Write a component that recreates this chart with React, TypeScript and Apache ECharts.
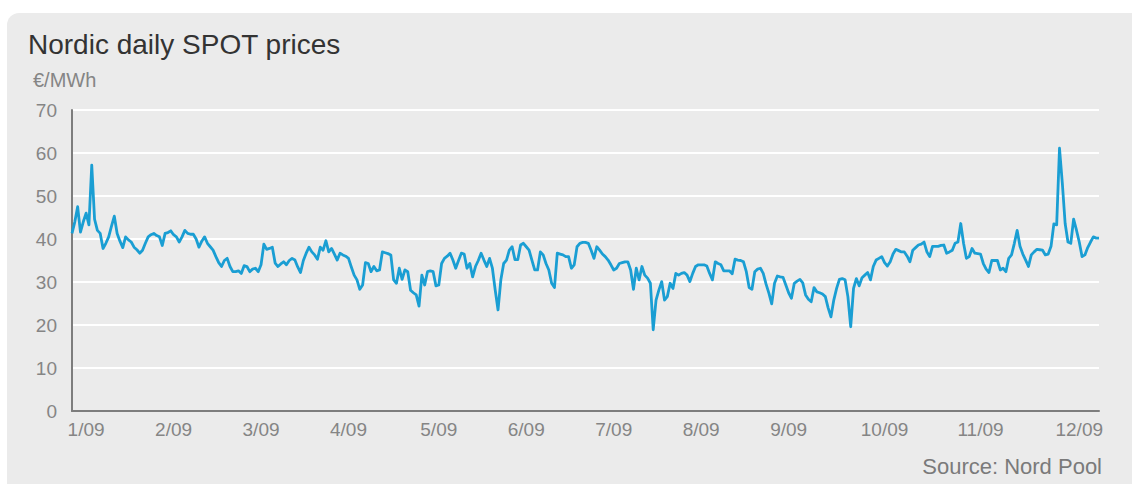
import { useEffect, useRef } from "react";
import * as echarts from "echarts";

// Nordic system price, daily average, 2009 (€/MWh)
const spotPrices: number[] = [
  // Jan
  41.3, 44, 47.5, 41.6, 44, 46, 43.3, 57.2, 44.6, 42, 41.3, 37.8, 39, 40.5, 43, 45.3,
  41.3, 39.5, 38, 40.5, 39.8, 39.3, 38.1, 37.5, 36.7, 37.4, 39, 40.5, 41, 41.3, 40.8,
  // Feb
  40.5, 38.5, 41.3, 41.5, 41.9, 41, 40.5, 39.3, 40.5, 42, 41.3, 41.1, 41.1, 40, 38.1,
  39.5, 40.5, 39, 38.2, 37.4, 35.9, 34.5, 33.6, 35, 35.5, 33.6, 32.4, 32.4,
  // Mar
  32.6, 32, 33.8, 33.6, 32.4, 33, 33.2, 32.4, 34, 38.8, 37.6, 37.8, 38.1, 34.4, 33.6,
  34.2, 34.7, 34, 35, 35.5, 35.1, 33.5, 32.2, 35, 36.7, 38.1, 37, 36.3, 35.3, 38.1, 37.4,
  // Apr
  39.6, 37, 37.8, 36.5, 35.1, 36.7, 36.3, 36, 35.5, 33.5, 31.6, 30.5, 28.3, 29.3, 34.5,
  34.3, 32.4, 33.6, 32.6, 32.8, 37, 36.8, 36.6, 36.3, 30.5, 29.7, 33.2, 30.6, 32.8, 32.4,
  // May
  28.1, 27.5, 27, 24.4, 31.6, 29.3, 32.4, 32.6, 32.4, 29.1, 29.3, 34.3, 35.5, 36, 36.7,
  35.1, 33.2, 35, 36.7, 36.5, 33.2, 34.3, 31.2, 33.6, 35, 36.7, 35.1, 33.6, 35.5, 33.2, 28.1,
  // Jun
  23.5, 30.5, 34.3, 35.1, 37.4, 38.2, 35.2, 35.2, 38.6, 39, 38.2, 37.4, 35.1, 32.8, 32.8,
  37, 36.3, 34.3, 32.8, 29.7, 28.7, 36.7, 36.5, 36.3, 35.9, 35.9, 33.2, 34, 38.2, 39,
  // Jul
  39.2, 39.2, 39, 37.4, 35.5, 38.2, 37.4, 36.5, 35.9, 35.1, 34, 32.8, 33.2, 34.3, 34.5,
  34.7, 34.7, 32.8, 28.3, 33.2, 30.5, 33.6, 31.6, 30.9, 29.7, 18.9, 25.8, 28.1, 30.1, 25.8, 26.6,
  // Aug
  29.7, 28.5, 32, 31.6, 32, 32.2, 31.6, 30.1, 32, 33.6, 34, 34, 34, 33.7, 32,
  30.5, 34.7, 34.3, 34, 32.6, 32.6, 32.6, 31.9, 35.3, 35.1, 35, 34.7, 32.4, 28.7, 28.3, 32.4,
  // Sep
  33, 33.2, 32, 29.5, 27.4, 24.9, 29.7, 31.4, 31.2, 31.1, 29.3, 27.5, 26.2, 29.7, 30.2,
  30.6, 29.8, 27, 26, 25.4, 28.7, 27.7, 27.5, 27.2, 26.6, 24, 21.9, 25.8, 28.5, 30.6,
  // Oct
  30.8, 30.5, 26.6, 19.6, 28.5, 30.8, 29.1, 31, 31.6, 32.2, 30.5, 33.6, 35.1, 35.5, 35.9,
  34.5, 33.7, 34.7, 36.5, 37.6, 37.3, 37, 37, 36, 34.7, 37.4, 38, 38.6, 38.8, 39.3, 37,
  // Nov
  35.9, 38.3, 38.3, 38.3, 38.5, 38.6, 36.7, 37, 37.4, 39, 39.3, 43.6, 39, 35.5, 35.9,
  37.8, 36.7, 36.6, 36.5, 34.3, 33, 32.2, 35, 35, 35, 32.8, 33.2, 32.4, 35.5, 36.3,
  // Dec
  39, 42, 38.3, 36.5, 35.1, 33.6, 36.3, 37, 37.6, 37.5, 37.4, 36.3, 36.5, 38.3, 43.5,
  43.3, 61.1, 53, 43.6, 39.3, 39, 44.6, 42.1, 39.3, 35.9, 36.3, 38, 39.3, 40.5, 40.2, 40.2,
];

const monthLabels = ["1/09", "2/09", "3/09", "4/09", "5/09", "6/09", "7/09", "8/09", "9/09", "10/09", "11/09", "12/09"];

const dates: string[] = spotPrices.map((_, i) =>
  new Date(Date.UTC(2009, 0, 1 + i)).toISOString().slice(0, 10)
);

const FONT = '"Liberation Sans", Arial, Helvetica, sans-serif';
const LABEL_GREY = "#858585";

// day index under each month label on the time axis
const monthLabelDays = [5, 36, 67, 98, 130, 161, 192, 223, 254, 288, 322, 357];

export default function App() {
  const ref = useRef<HTMLDivElement>(null);

  useEffect(() => {
    if (!ref.current) return;
    const chart = echarts.init(ref.current, undefined, { renderer: "svg" });
    chart.setOption({
      animation: false,
      grid: { left: 72, right: 33, top: 110, bottom: 73, containLabel: false, outerBoundsMode: "none" },
      graphic: [
        {
          type: "text",
          left: 28,
          top: 30,
          style: { text: "Nordic daily SPOT prices", font: `28px ${FONT}`, fill: "#333333" },
        },
        {
          type: "text",
          left: 33,
          top: 70,
          style: { text: "€/MWh", font: `20px ${FONT}`, fill: LABEL_GREY },
        },
        {
          type: "text",
          right: 30,
          top: 455,
          style: { text: "Source: Nord Pool", font: `22px ${FONT}`, fill: "#7a7a7a" },
        },
      ],
      xAxis: {
        type: "category",
        data: dates,
        boundaryGap: false,
        axisLine: { show: true, lineStyle: { color: "#7d7d7d", width: 2 } },
        axisTick: { show: false },
        splitLine: { show: false },
        axisLabel: {
          interval: (index: number) => monthLabelDays.includes(index),
          formatter: (_v: string, index: number) => monthLabels[monthLabelDays.indexOf(index)] ?? "",
          color: LABEL_GREY,
          fontSize: 19,
          fontFamily: FONT,
          margin: 9,
        },
      },
      yAxis: {
        type: "value",
        min: 0,
        max: 70,
        interval: 10,
        axisLine: { show: true, lineStyle: { color: "#7d7d7d", width: 2 } },
        axisTick: { show: false },
        splitLine: { show: true, lineStyle: { color: "#ffffff", width: 2 } },
        axisLabel: { color: LABEL_GREY, fontSize: 19, fontFamily: FONT, margin: 15 },
      },
      series: [
        {
          type: "line",
          data: spotPrices,
          showSymbol: false,
          symbol: "none",
          lineStyle: { color: "#1a9ed3", width: 2.8, join: "round" },
        },
      ],
    });
    return () => chart.dispose();
  }, []);

  return (
    <div style={{ position: "fixed", left: 0, top: 0, width: 1132, height: 484, background: "#ffffff", overflow: "hidden" }}>
      <div
        style={{
          position: "absolute",
          left: 7,
          top: 13,
          width: 1140,
          height: 480,
          background: "#ebebeb",
          borderTopLeftRadius: 12,
        }}
      />
      <div ref={ref} style={{ position: "absolute", left: 0, top: 0, width: 1132, height: 484 }} />
    </div>
  );
}
